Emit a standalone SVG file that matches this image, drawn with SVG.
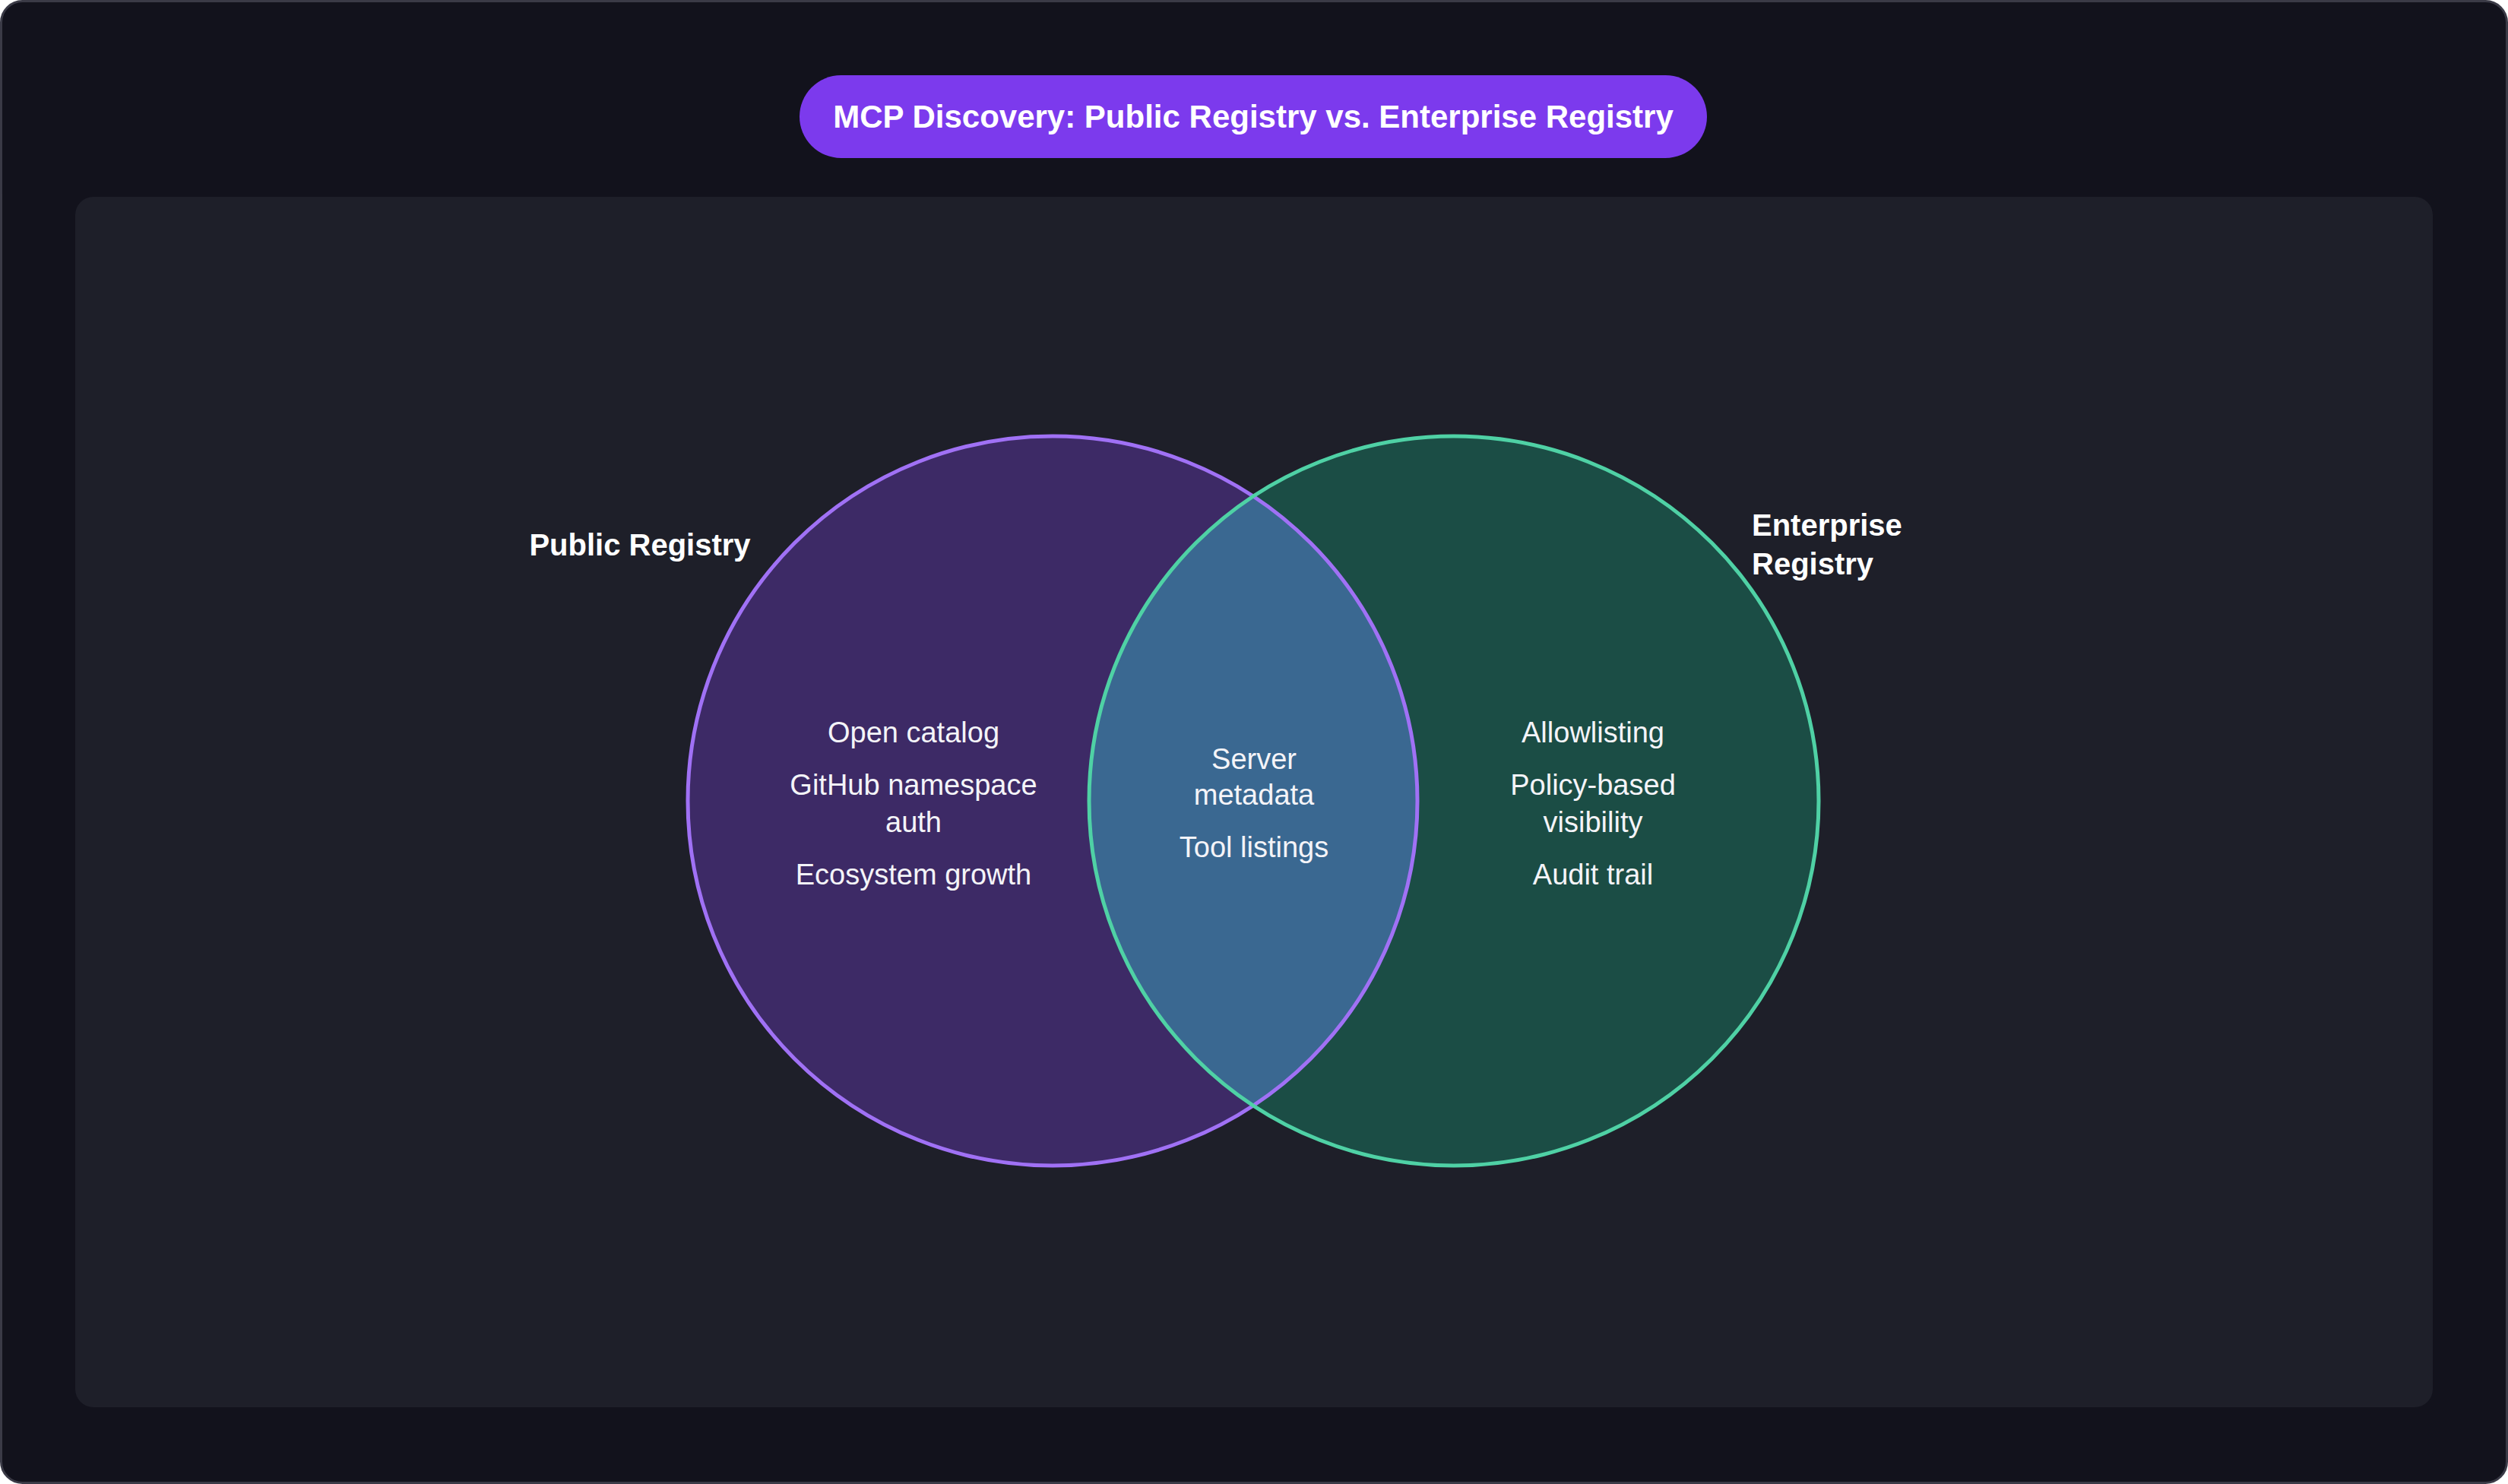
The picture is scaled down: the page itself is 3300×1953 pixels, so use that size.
<svg xmlns="http://www.w3.org/2000/svg" width="3300" height="1953" viewBox="0 0 3300 1953">
<defs>
<style>
.t{font-family:"Liberation Sans",Arial,sans-serif;fill:#f4f4f8;font-size:38px;text-anchor:middle}
.h{font-family:"Liberation Sans",Arial,sans-serif;fill:#ffffff;font-size:40px;font-weight:bold}
</style>
<clipPath id="cl"><circle cx="1385" cy="1054" r="480"/></clipPath>
</defs>
<rect x="1.5" y="1.5" width="3297" height="1950" rx="28" fill="#12121c" stroke="#3a3a46" stroke-width="3"/>
<rect x="99" y="259" width="3102" height="1593" rx="24" fill="#1e1f29"/>
<g id="title">
<rect x="1052" y="99" width="1194" height="109" rx="54.5" fill="#7c3aed"/>
<text x="1649" y="168" font-family="Liberation Sans,Arial,sans-serif" font-size="42" font-weight="bold" fill="#ffffff" text-anchor="middle">MCP Discovery: Public Registry vs. Enterprise Registry</text>
</g>
<g id="public">
<circle cx="1385" cy="1054" r="480" fill="#3d2a66"/>
</g>
<g id="enterprise">
<circle cx="1913" cy="1054" r="480" fill="#1b4d45"/>
</g>
<g id="overlap">
<circle cx="1913" cy="1054" r="480" fill="#3a6891" clip-path="url(#cl)"/>
</g>
<g id="strokes" fill="none" stroke-width="5">
<circle cx="1385" cy="1054" r="480" stroke="#a071f5"/>
<circle cx="1913" cy="1054" r="480" stroke="#4fd1a5"/>
</g>
<text class="h" x="842" y="731" text-anchor="middle">Public Registry</text>
<text class="h" x="2305" y="705">Enterprise</text>
<text class="h" x="2305" y="756">Registry</text>
<g id="public-items">
<text class="t" x="1202" y="977">Open catalog</text>
<text class="t" x="1202" y="1046">GitHub namespace</text>
<text class="t" x="1202" y="1095">auth</text>
<text class="t" x="1202" y="1164">Ecosystem growth</text>
</g>
<g id="shared-items">
<text class="t" x="1650" y="1012">Server</text>
<text class="t" x="1650" y="1059">metadata</text>
<text class="t" x="1650" y="1128">Tool listings</text>
</g>
<g id="enterprise-items">
<text class="t" x="2096" y="977">Allowlisting</text>
<text class="t" x="2096" y="1046">Policy-based</text>
<text class="t" x="2096" y="1095">visibility</text>
<text class="t" x="2096" y="1164">Audit trail</text>
</g>
</svg>
